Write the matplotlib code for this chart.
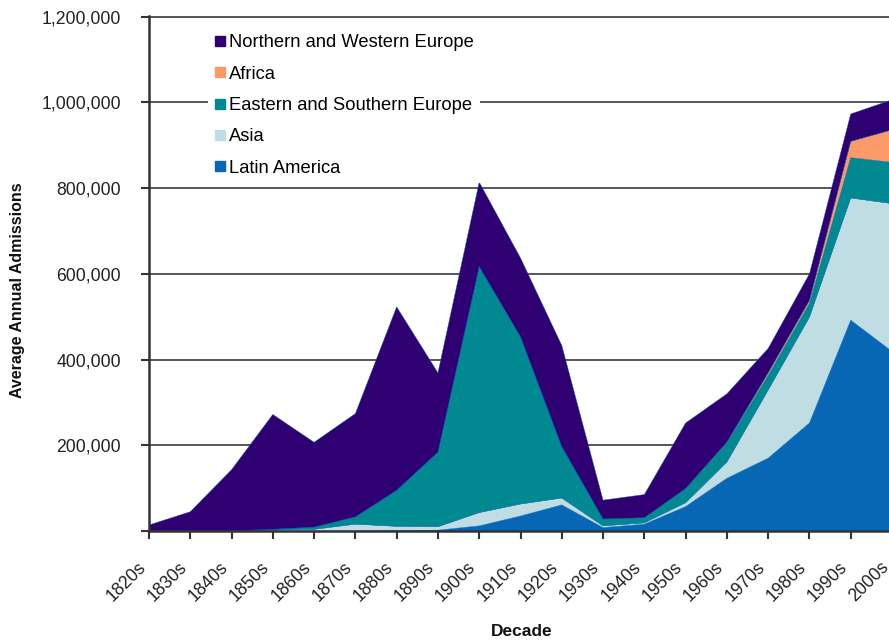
import matplotlib
matplotlib.use('Agg')
import matplotlib.pyplot as plt
import matplotlib.transforms as mtransforms
from matplotlib.lines import Line2D
from matplotlib.ticker import FuncFormatter

plt.rcParams['font.family'] = ['Liberation Sans', 'DejaVu Sans']

# average annual admissions by decade
decades = ['1820s', '1830s', '1840s', '1850s', '1860s', '1870s', '1880s', '1890s',
           '1900s', '1910s', '1920s', '1930s', '1940s', '1950s', '1960s', '1970s',
           '1980s', '1990s', '2000s']
latin_america = [0, 0, 0, 0, 0, 0, 1000, 2000, 12000, 35000, 61000, 8000, 16000,
                 57000, 123000, 170000, 252000, 492000, 419000]
asia = [0, 0, 0, 2000, 4000, 16000, 10000, 8000, 31000, 28000, 16000, 4000, 3000,
        9000, 38000, 159000, 247000, 285000, 345000]
es_europe = [0, 0, 0, 2000, 5000, 17000, 84000, 174000, 574000, 390000, 120000,
             16000, 12000, 32000, 44000, 34000, 32000, 94000, 96000]
africa = [0, 0, 0, 0, 0, 0, 0, 0, 0, 0, 0, 0, 0, 1000, 2000, 6000, 7000, 38000, 76000]
nw_europe = [14000, 45000, 143000, 268000, 198000, 241000, 428000, 185000, 197000,
             184000, 236000, 44000, 54000, 153000, 113000, 57000, 62000, 64000, 70000]

names = ['Latin America', 'Asia', 'Eastern and Southern Europe', 'Africa',
         'Northern and Western Europe']
colors = ['#0867b5', '#bfdde3', '#008990', '#fb9a66', '#2e0072']

fig = plt.figure(figsize=(8.89, 6.4), dpi=100)
ax = fig.add_axes([149 / 889, 109 / 640, 743 / 889, 515 / 640])

x = list(range(len(decades)))
ax.stackplot(x, latin_america, asia, es_europe, africa, nw_europe,
             colors=colors, edgecolors=colors, linewidth=0.3, zorder=2)

ax.set_xlim(0, len(decades) - 1)
ax.set_ylim(0, 1201500)
ax.set_yticks(range(0, 1200001, 200000))
ax.yaxis.set_major_formatter(FuncFormatter(lambda v, p: '' if v == 0 else f'{int(v):,}'))
ax.set_xticks(x)
ax.set_xticklabels(decades, rotation=45, ha='right', va='top')
# nudge the slanted labels a little to the right, like the original
shift = mtransforms.ScaledTranslation(4 / 100, 0, fig.dpi_scale_trans)
for lab in ax.get_xticklabels():
    lab.set_transform(lab.get_transform() + shift)

ax.grid(axis='y', color='#3a3a3a', linewidth=1.2, zorder=1)
ax.set_axisbelow(True)
for s in ['top', 'right']:
    ax.spines[s].set_visible(False)
for s in ['left', 'bottom']:
    ax.spines[s].set_color('#333333')
    ax.spines[s].set_linewidth(1.8)
ax.tick_params(axis='both', direction='out', length=6, width=1.5, color='#333333',
               labelsize=12.7, labelcolor='#222222')
ax.tick_params(axis='x', pad=14)
ax.tick_params(axis='y', pad=14)

handles = [Line2D([], [], marker='s', linestyle='none', markersize=7,
                  markerfacecolor=c, markeredgecolor=c) for c in colors[::-1]]
leg = ax.legend(handles, names[::-1], loc='upper left', frameon=True,
                bbox_to_anchor=(208 / 889, 1 - 28 / 640), bbox_transform=fig.transFigure,
                fontsize=13.2, handlelength=0.6, handletextpad=0.2, labelspacing=0.78,
                borderpad=0.35, borderaxespad=0)
leg.get_frame().set_edgecolor('none')
leg.get_frame().set_facecolor('white')
leg.get_frame().set_alpha(1)
leg.get_frame().set_boxstyle('square', pad=0)

fig.text(18 / 889, 1 - 290 / 640, 'Average Annual Admissions', rotation=90,
         ha='center', va='center', fontsize=11.5, fontweight='bold', color='#111111')
fig.text(522 / 889, 1 - 631 / 640, 'Decade', ha='center', va='center',
         fontsize=12.5, fontweight='bold', color='#111111')

fig.savefig('out.png', dpi=100)
